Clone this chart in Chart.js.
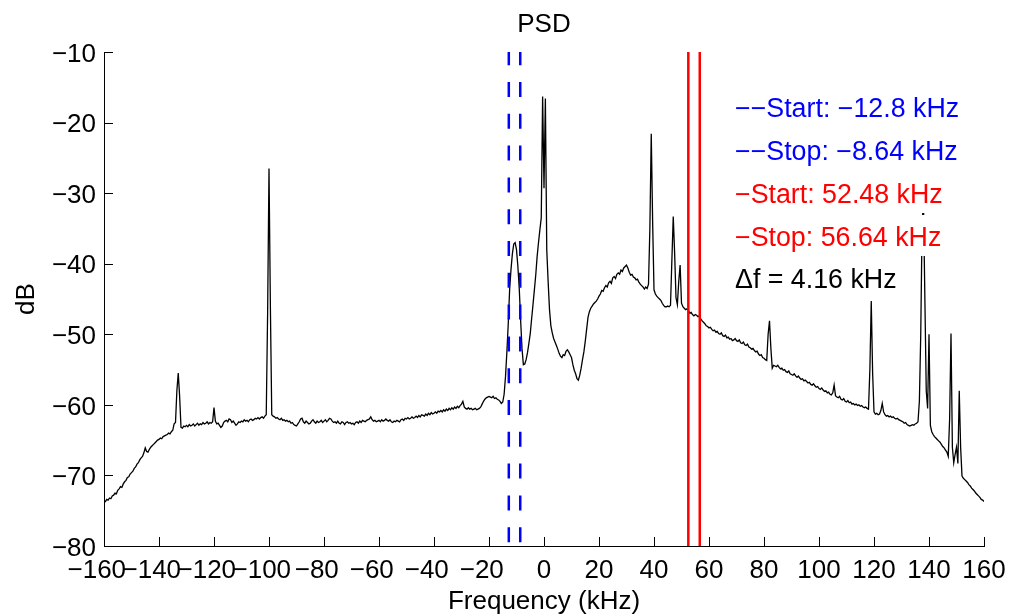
<!DOCTYPE html>
<html>
<head>
<meta charset="utf-8">
<script src="https://cdn.jsdelivr.net/npm/chart.js@4.4.1/dist/chart.umd.min.js"></script>
<style>
html,body{margin:0;padding:0;background:#ffffff;}
canvas{display:block;}
</style>
</head>
<body>
<canvas id="c" width="1018" height="616"></canvas>
<script>
// ---------------- data ----------------
const freqStartKHz = -160;   // first frequency bin
const freqStepKHz = 0.5;     // bin spacing
// PSD values (dB), one row = 10 kHz (20 bins)
const psdDb = [
-73.6,-73.7,-73.4,-73.5,-73.2,-73.3,-72.9,-72.8,-72.5,-72.6,-72.1,-71.9,-71.6,-71.7,-71.2,-70.9,-70.7,-70.3,-70.2,-69.8,
-69.6,-69.4,-69.0,-68.8,-68.4,-68.2,-67.8,-67.5,-67.3,-66.8,-66.1,-66.6,-66.7,-66.3,-66.0,-65.8,-65.6,-65.4,-65.2,-65.0,
-64.9,-64.7,-64.8,-64.5,-64.4,-64.3,-64.2,-64.0,-64.1,-63.8,-63.6,-62.7,-62.5,-58.0,-55.5,-58.8,-63.2,-63.3,-63.0,-63.1,
-62.9,-63.1,-62.8,-63.0,-62.9,-62.7,-63.0,-62.8,-62.6,-62.9,-62.7,-62.8,-62.5,-62.7,-62.6,-62.4,-62.7,-62.5,-62.6,-62.4,
-60.4,-62.3,-62.7,-62.6,-62.9,-63.2,-63.0,-62.5,-62.3,-62.2,-62.4,-62.0,-62.1,-62.5,-62.3,-62.6,-62.9,-62.7,-62.4,-62.5,
-62.3,-62.4,-62.1,-62.3,-62.2,-62.4,-62.1,-62.0,-62.2,-62.1,-61.9,-62.0,-61.8,-62.0,-61.8,-61.7,-61.9,-61.6,-61.4,-47.0,
-26.5,-46.0,-61.4,-61.6,-61.7,-61.9,-61.8,-62.0,-62.1,-61.9,-62.2,-62.1,-62.3,-62.2,-62.4,-62.3,-62.6,-62.5,-62.8,-62.9,
-63.0,-62.7,-62.4,-62.0,-61.9,-62.4,-62.6,-62.3,-62.5,-62.7,-62.6,-62.3,-62.1,-62.4,-62.6,-62.3,-62.5,-62.4,-62.2,-62.5,
-62.3,-62.1,-62.4,-62.2,-61.9,-62.0,-62.3,-62.5,-62.4,-62.6,-62.3,-62.6,-62.7,-62.4,-62.5,-62.8,-62.5,-62.4,-62.6,-62.5,
-62.7,-62.6,-62.8,-62.5,-62.4,-62.6,-62.3,-62.5,-62.2,-62.3,-62.4,-62.2,-62.1,-62.0,-61.7,-62.1,-62.3,-62.2,-62.4,-62.3,
-62.2,-62.4,-62.1,-62.3,-62.2,-62.0,-62.2,-62.3,-62.1,-62.4,-62.5,-62.3,-62.4,-62.2,-62.3,-62.4,-62.1,-62.0,-62.2,-61.9,
-62.0,-61.8,-62.0,-61.9,-61.7,-61.9,-61.8,-61.6,-61.8,-61.5,-61.7,-61.4,-61.5,-61.6,-61.3,-61.5,-61.2,-61.4,-61.1,-61.3,
-61.2,-61.0,-61.2,-60.9,-61.0,-60.8,-61.0,-60.7,-60.9,-60.6,-60.8,-60.5,-60.7,-60.4,-60.6,-60.3,-60.5,-60.2,-60.4,-60.1,
-59.9,-59.5,-60.3,-60.5,-60.6,-60.4,-60.6,-60.5,-60.7,-60.6,-60.5,-60.7,-60.6,-60.5,-60.3,-59.9,-59.5,-59.2,-59.0,-58.9,
-58.8,-58.9,-59.0,-58.8,-59.1,-59.0,-59.2,-59.3,-59.5,-59.8,-59.6,-58.5,-56.0,-52.5,-48.5,-43.7,-40.8,-38.6,-37.2,-37.0,
-38.0,-40.4,-43.5,-48.0,-52.0,-54.3,-54.2,-53.6,-52.6,-51.3,-49.9,-47.8,-45.8,-43.7,-41.6,-39.0,-37.0,-35.2,-33.5,-16.3,
-29.3,-16.6,-38.0,-42.5,-46.5,-48.8,-49.8,-50.6,-51.1,-51.6,-52.1,-52.7,-53.1,-53.3,-52.9,-53.0,-52.4,-52.2,-52.5,-52.9,
-53.3,-54.3,-55.1,-55.6,-56.3,-56.5,-55.8,-54.8,-53.6,-52.5,-51.0,-49.3,-47.6,-46.8,-46.3,-46.0,-45.7,-45.5,-45.3,-45.0,
-44.6,-44.3,-43.8,-43.9,-43.4,-43.1,-43.3,-42.7,-42.5,-42.8,-42.0,-41.8,-42.1,-41.5,-41.3,-41.5,-40.9,-41.1,-40.6,-40.4,
-40.2,-40.6,-41.2,-41.6,-41.5,-41.9,-42.0,-42.3,-42.2,-42.6,-42.9,-43.1,-43.3,-43.6,-43.3,-43.5,-42.9,-35.0,-21.6,-34.0,
-43.7,-44.3,-44.6,-44.8,-45.0,-45.2,-45.6,-45.9,-46.1,-46.1,-46.0,-46.1,-45.9,-39.5,-33.3,-38.5,-44.8,-45.8,-42.5,-40.2,
-45.6,-46.1,-46.3,-46.5,-46.4,-46.6,-47.0,-46.9,-47.2,-47.4,-47.2,-47.3,-47.5,-47.4,-47.8,-48.1,-48.3,-48.5,-48.8,-48.9,
-49.1,-49.0,-49.3,-49.5,-49.4,-49.7,-49.6,-49.9,-50.0,-49.8,-50.2,-50.3,-50.1,-50.5,-50.4,-50.7,-50.6,-50.9,-50.8,-50.6,
-50.9,-51.0,-50.8,-51.2,-51.3,-51.1,-51.5,-51.6,-51.4,-51.8,-51.9,-52.1,-52.0,-52.3,-52.5,-52.4,-52.8,-53.0,-52.9,-53.3,
-53.4,-53.6,-53.7,-50.0,-48.1,-52.0,-54.8,-54.4,-54.5,-54.6,-54.4,-54.7,-54.9,-54.8,-55.1,-55.0,-55.3,-55.4,-55.2,-55.6,
-55.7,-55.8,-55.6,-55.9,-56.1,-55.9,-56.2,-56.4,-56.3,-56.6,-56.5,-56.7,-56.9,-56.8,-57.1,-57.2,-57.0,-57.3,-57.5,-57.4,
-57.7,-57.8,-57.6,-57.9,-58.1,-58.0,-58.3,-58.2,-58.5,-58.6,-58.3,-57.2,-58.7,-58.9,-59.0,-58.8,-59.2,-59.3,-59.1,-59.5,
-59.6,-59.4,-59.7,-59.6,-59.9,-59.8,-60.0,-59.9,-60.1,-60.0,-60.2,-60.1,-60.3,-60.4,-60.3,-60.5,-60.6,-55.0,-45.3,-55.5,
-61.0,-61.3,-61.2,-61.4,-61.3,-60.8,-59.8,-61.0,-61.4,-61.6,-61.5,-61.7,-61.6,-61.8,-61.7,-61.9,-62.0,-61.9,-62.1,-62.2,
-62.3,-62.4,-62.6,-62.5,-62.8,-62.9,-63.0,-62.9,-62.8,-62.9,-62.7,-62.6,-62.4,-59.5,-50.0,-34.0,-31.5,-45.0,-58.0,-60.5,
-50.0,-62.9,-63.8,-64.2,-64.5,-64.7,-64.9,-65.1,-65.3,-65.6,-65.9,-66.1,-66.4,-66.7,-67.3,-62.0,-49.9,-66.0,-68.2,-67.0,
-66.0,-68.3,-58.0,-66.0,-70.1,-70.4,-70.6,-70.8,-71.0,-71.3,-71.5,-71.8,-72.0,-72.2,-72.5,-72.7,-72.9,-73.1,-73.4,-73.5,
-73.7
];
const markerFreqsKHz = [-12.8, -8.64, 52.48, 56.64];
const xTickValues = [-160,-140,-120,-100,-80,-60,-40,-20,0,20,40,60,80,100,120,140,160];
const yTickValues = [-80,-70,-60,-50,-40,-30,-20,-10];
const annotationTexts = [
  '\u2212\u2212Start: \u221212.8 kHz',
  '\u2212\u2212Stop: \u22128.64 kHz',
  '\u2212Start: 52.48 kHz',
  '\u2212Stop: 56.64 kHz',
  '\u0394f = 4.16 kHz'
];

// ---------------- styles / layout ----------------
const FONT = '"Liberation Sans", Arial, Helvetica, sans-serif';
const markerStyles = [
  {color:'#0000ff', dash:[15,16.8]},
  {color:'#0000ff', dash:[15,16.8]},
  {color:'#ff0000', dash:[]},
  {color:'#ff0000', dash:[]}
];
const annotationStyle = {
  x: 69.45,
  ys: [-17.89, -23.99, -30.08, -36.17, -42.12],
  colors: ['#0000ff','#0000ff','#ff0000','#ff0000','#000000'],
  fontSize: 26.8
};

const fmtMinus = v => (v < 0 ? '\u2212' + Math.abs(v) : String(v));

const psdPoints = psdDb.map((v, i) => ({x: freqStartKHz + i * freqStepKHz, y: v}));

const datasets = [];
markerFreqsKHz.forEach((f, i) => {
  datasets.push({
    data: [{x: f, y: yTickValues[yTickValues.length - 1]}, {x: f, y: yTickValues[0]}],
    borderColor: markerStyles[i].color,
    borderWidth: 2.5,
    borderDash: markerStyles[i].dash,
    borderDashOffset: 1.8,
    pointRadius: 0,
    tension: 0,
    order: 0
  });
});
datasets.push({
  data: psdPoints,
  borderColor: '#000000',
  borderWidth: 1.3,
  pointRadius: 0,
  tension: 0,
  order: 1
});

const decorPlugin = {
  id: 'decor',
  afterDatasetsDraw(chart) {
    const ctx = chart.ctx;
    const xs = chart.scales.x, ys = chart.scales.y;
    ctx.save();
    ctx.font = annotationStyle.fontSize + 'px ' + FONT;
    ctx.textAlign = 'left';
    ctx.textBaseline = 'alphabetic';
    annotationTexts.forEach((t, i) => {
      const px = xs.getPixelForValue(annotationStyle.x);
      const py = ys.getPixelForValue(annotationStyle.ys[i]);
      const w = ctx.measureText(t).width;
      ctx.fillStyle = '#ffffff';
      ctx.fillRect(px - 3, py - 21.7, w + 6, 41);
      ctx.fillStyle = annotationStyle.colors[i];
      ctx.fillText(t, px, py + 9.3);
    });
    ctx.restore();
  },
  afterDraw(chart) {
    const ctx = chart.ctx;
    const a = chart.chartArea;
    const xs = chart.scales.x, ys = chart.scales.y;
    ctx.save();
    ctx.strokeStyle = '#000000';
    ctx.lineWidth = 1;
    ctx.beginPath();
    yTickValues.forEach(v => {
      const py = Math.round(ys.getPixelForValue(v)) + 0.5;
      ctx.moveTo(a.left, py); ctx.lineTo(a.left + 9, py);
    });
    xTickValues.forEach(v => {
      const px = Math.round(xs.getPixelForValue(v)) + 0.5;
      ctx.moveTo(px, a.bottom); ctx.lineTo(px, a.bottom - 9);
    });
    ctx.stroke();
    ctx.fillStyle = '#000000';
    ctx.font = '26px ' + FONT;
    ctx.textAlign = 'center';
    ctx.textBaseline = 'alphabetic';
    const cx = (a.left + a.right) / 2;
    ctx.fillText('PSD', cx, 31.7);
    ctx.fillText('Frequency (kHz)', cx, 609);
    ctx.save();
    ctx.translate(33.5, (a.top + a.bottom) / 2);
    ctx.rotate(-Math.PI / 2);
    ctx.fillText('dB', 0, 0);
    ctx.restore();
    ctx.restore();
  }
};

new Chart(document.getElementById('c'), {
  type: 'line',
  data: {datasets},
  options: {
    responsive: false,
    devicePixelRatio: 1,
    animation: false,
    events: [],
    layout: {padding: {left: 0, right: 34, top: 52, bottom: 0}},
    plugins: {legend: {display: false}, tooltip: {enabled: false}, title: {display: false}},
    scales: {
      x: {
        type: 'linear',
        min: xTickValues[0],
        max: xTickValues[xTickValues.length - 1],
        afterBuildTicks: s => { s.ticks = xTickValues.map(v => ({value: v})); },
        afterFit: s => { s.height = 70; },
        grid: {display: true, drawOnChartArea: false, drawTicks: false},
        border: {display: true, color: '#000000', width: 1},
        ticks: {
          autoSkip: false, maxRotation: 0, minRotation: 0, padding: 9,
          color: '#000000', font: {family: FONT, size: 26},
          callback: v => (v < 0 ? fmtMinus(v) + '\u2007' : String(v))
        }
      },
      y: {
        type: 'linear',
        min: yTickValues[0],
        max: yTickValues[yTickValues.length - 1],
        afterBuildTicks: s => { s.ticks = yTickValues.map(v => ({value: v})); },
        afterFit: s => { s.width = 104; },
        grid: {display: true, drawOnChartArea: false, drawTicks: false},
        border: {display: true, color: '#000000', width: 1},
        ticks: {
          padding: 8, labelOffset: 2.5,
          color: '#000000', font: {family: FONT, size: 26},
          callback: v => fmtMinus(v)
        }
      }
    }
  },
  plugins: [decorPlugin]
});
</script>
</body>
</html>
